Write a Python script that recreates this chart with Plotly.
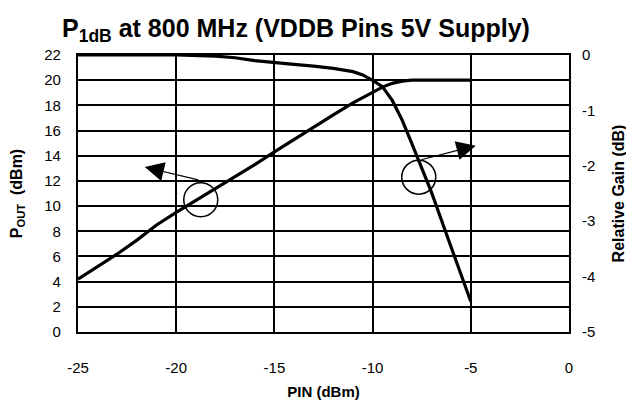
import plotly.graph_objects as go

# ---- data ----
pin_pout = [-25, -24, -23, -22, -21, -20, -19, -18, -17, -16, -15, -14, -13, -12, -11, -10, -9.5, -9, -8.5, -8, -7, -6, -5]
pout = [4.2, 5.2, 6.2, 7.3, 8.5, 9.5, 10.45, 11.35, 12.3, 13.3, 14.3, 15.3, 16.25, 17.25, 18.2, 19.0, 19.45, 19.75, 19.92, 20.0, 20.0, 20.0, 20.0]

pin_gain = [-25, -21, -20, -18, -17, -16, -15, -14, -13, -12, -11, -10.5, -10, -9.5, -9, -8.5, -8, -7.5, -7, -6, -5]
gain = [0, 0, 0, -0.02, -0.05, -0.1, -0.14, -0.17, -0.2, -0.24, -0.3, -0.36, -0.46, -0.57, -0.82, -1.17, -1.6, -2.05, -2.48, -3.47, -4.45]

x_ticks = [-25, -20, -15, -10, -5, 0]
x_ticktext = ["-25", "-20", "-15", "-10", "-5", "0"]
y_ticks = [0, 2, 4, 6, 8, 10, 12, 14, 16, 18, 20, 22]
y_ticktext = [str(v) for v in y_ticks]
y2_ticks = [0, -1, -2, -3, -4, -5]
y2_ticktext = ["0", "-1", "-2", "-3", "-4", "-5"]

# annotation markers (circle centre, arrow tail, arrow head) in data units of the left axis
left_circle = (-18.75, 10.5)
left_arrow_tail = (-18.8, 12.05)
left_arrow_head = (-21.6, 13.1)
right_circle = (-7.65, 12.3)
right_arrow_tail = (-7.6, 13.65)
right_arrow_head = (-4.75, 14.8)

FONT = "Arial, Liberation Sans, sans-serif"

fig = go.Figure()
fig.add_trace(go.Scatter(x=pin_pout, y=pout, mode="lines",
                         line=dict(color="black", width=3.2), yaxis="y", showlegend=False))
fig.add_trace(go.Scatter(x=pin_gain, y=gain, mode="lines",
                         line=dict(color="black", width=3.2), yaxis="y2", showlegend=False))

for (cx, cy) in (left_circle, right_circle):
    fig.add_shape(type="circle", xref="x", yref="y", xsizemode="pixel", ysizemode="pixel",
                  xanchor=cx, yanchor=cy, x0=-17, x1=17, y0=-17, y1=17,
                  line=dict(color="black", width=1.5))

for tail, head in ((left_arrow_tail, left_arrow_head), (right_arrow_tail, right_arrow_head)):
    fig.add_annotation(x=head[0], y=head[1], ax=tail[0], ay=tail[1],
                       xref="x", yref="y", axref="x", ayref="y",
                       text="", showarrow=True, arrowhead=2, arrowsize=3.2,
                       arrowwidth=1.2, arrowcolor="black")

fig.update_layout(
    width=626, height=398,
    margin=dict(l=70, r=65, t=47, b=74, autoexpand=False),
    paper_bgcolor="white", plot_bgcolor="white",
    font=dict(family=FONT, color="black", size=15),
    title=dict(text="<b>P<sub>1dB</sub> at 800 MHz (VDDB Pins 5V Supply)</b>",
               x=0.46, xanchor="center", y=0.95, yanchor="middle",
               font=dict(size=25, family=FONT)),
    xaxis=dict(range=[-25, 0], tickvals=x_ticks, ticktext=x_ticktext, automargin=False,
               showgrid=True, gridcolor="black", gridwidth=1.6,
               showline=True, linecolor="black", linewidth=2.2, mirror=True,
               ticks="", ticklabelstandoff=21, zeroline=False,
               title=dict(text="<b>PIN (dBm)</b>", font=dict(size=15), standoff=11)),
    yaxis=dict(range=[0, 22], tickvals=y_ticks, ticktext=y_ticktext, automargin=False,
               showgrid=True, gridcolor="black", gridwidth=1.6,
               showline=True, linecolor="black", linewidth=2.2, mirror=True,
               ticks="", ticklabelstandoff=12, zeroline=False,
               title=dict(text="<b>P<sub>OUT</sub>  (dBm)</b>", font=dict(size=16), standoff=18)),
    yaxis2=dict(range=[-5, 0], tickvals=y2_ticks, ticktext=y2_ticktext, automargin=False,
                overlaying="y", side="right", showgrid=False, zeroline=False,
                ticks="", ticklabelstandoff=12,
                title=dict(text="<b>Relative Gain (dB)</b>", font=dict(size=16), standoff=18)),
)

fig.write_html("out.html")
